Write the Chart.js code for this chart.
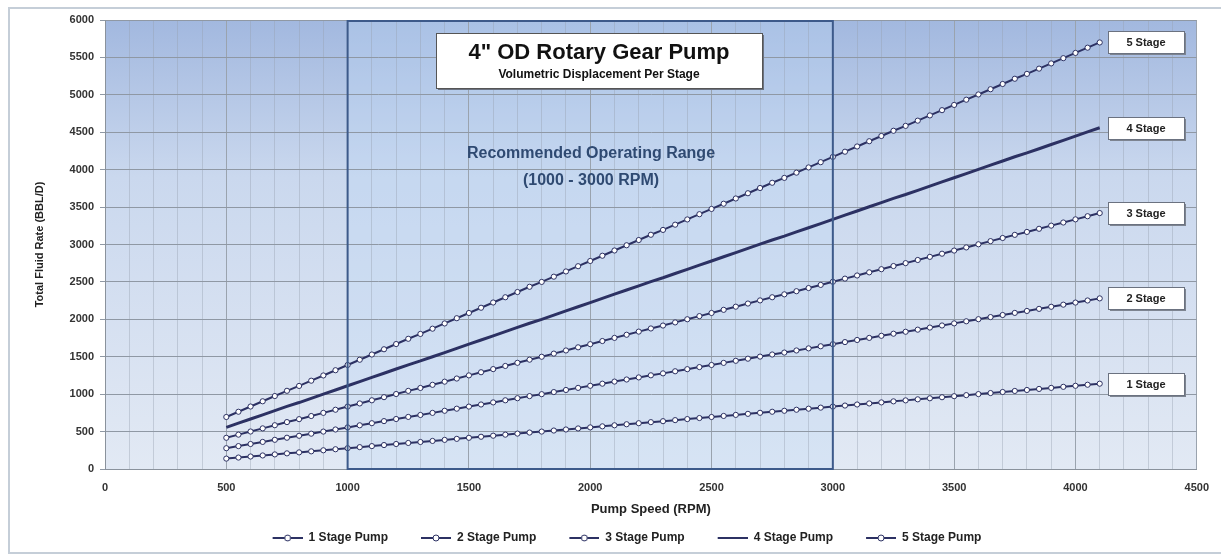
<!DOCTYPE html>
<html>
<head>
<meta charset="utf-8">
<script src="https://cdn.jsdelivr.net/npm/chart.js@4.4.1/dist/chart.umd.min.js"></script>
<style>
  html, body { margin: 0; padding: 0; background: #fff; }
  #wrap { position: relative; width: 1221px; height: 559px; }
</style>
</head>
<body>
<div id="wrap"><canvas id="pumpChart" width="1221" height="559"></canvas></div>
<script>
// pump speed in RPM, one point every 50 RPM
const rpm = [500, 550, 600, 650, 700, 750, 800, 850, 900, 950,
  1000, 1050, 1100, 1150, 1200, 1250, 1300, 1350, 1400, 1450,
  1500, 1550, 1600, 1650, 1700, 1750, 1800, 1850, 1900, 1950,
  2000, 2050, 2100, 2150, 2200, 2250, 2300, 2350, 2400, 2450,
  2500, 2550, 2600, 2650, 2700, 2750, 2800, 2850, 2900, 2950,
  3000, 3050, 3100, 3150, 3200, 3250, 3300, 3350, 3400, 3450,
  3500, 3550, 3600, 3650, 3700, 3750, 3800, 3850, 3900, 3950,
  4000, 4050, 4100];

// total fluid rate (BBL/D) for each stage count
const stage1 = [139, 153, 167, 181, 195, 209, 222, 236, 250, 264,
  278, 292, 306, 320, 334, 348, 361, 375, 389, 403,
  417, 431, 445, 459, 473, 487, 500, 514, 528, 542,
  556, 570, 584, 598, 612, 626, 639, 653, 667, 681,
  695, 709, 723, 737, 751, 765, 778, 792, 806, 820,
  834, 848, 862, 876, 890, 904, 917, 931, 945, 959,
  973, 987, 1001, 1015, 1029, 1043, 1056, 1070, 1084, 1098,
  1112, 1126, 1140];
const stage2 = [278, 306, 334, 362, 390, 418, 444, 472, 500, 528,
  556, 584, 612, 640, 668, 696, 722, 750, 778, 806,
  834, 862, 890, 918, 946, 974, 1000, 1028, 1056, 1084,
  1112, 1140, 1168, 1196, 1224, 1252, 1278, 1306, 1334, 1362,
  1390, 1418, 1446, 1474, 1502, 1530, 1556, 1584, 1612, 1640,
  1668, 1696, 1724, 1752, 1780, 1808, 1834, 1862, 1890, 1918,
  1946, 1974, 2002, 2030, 2058, 2086, 2112, 2140, 2168, 2196,
  2224, 2252, 2280];
const stage3 = [417, 459, 501, 543, 585, 627, 666, 708, 750, 792,
  834, 876, 918, 960, 1002, 1044, 1083, 1125, 1167, 1209,
  1251, 1293, 1335, 1377, 1419, 1461, 1500, 1542, 1584, 1626,
  1668, 1710, 1752, 1794, 1836, 1878, 1917, 1959, 2001, 2043,
  2085, 2127, 2169, 2211, 2253, 2295, 2334, 2376, 2418, 2460,
  2502, 2544, 2586, 2628, 2670, 2712, 2751, 2793, 2835, 2877,
  2919, 2961, 3003, 3045, 3087, 3129, 3168, 3210, 3252, 3294,
  3336, 3378, 3420];
const stage4 = [556, 612, 668, 724, 780, 836, 888, 944, 1000, 1056,
  1112, 1168, 1224, 1280, 1336, 1392, 1444, 1500, 1556, 1612,
  1668, 1724, 1780, 1836, 1892, 1948, 2000, 2056, 2112, 2168,
  2224, 2280, 2336, 2392, 2448, 2504, 2556, 2612, 2668, 2724,
  2780, 2836, 2892, 2948, 3004, 3060, 3112, 3168, 3224, 3280,
  3336, 3392, 3448, 3504, 3560, 3616, 3668, 3724, 3780, 3836,
  3892, 3948, 4004, 4060, 4116, 4172, 4224, 4280, 4336, 4392,
  4448, 4504, 4560];
const stage5 = [695, 765, 835, 905, 975, 1045, 1110, 1180, 1250, 1320,
  1390, 1460, 1530, 1600, 1670, 1740, 1805, 1875, 1945, 2015,
  2085, 2155, 2225, 2295, 2365, 2435, 2500, 2570, 2640, 2710,
  2780, 2850, 2920, 2990, 3060, 3130, 3195, 3265, 3335, 3405,
  3475, 3545, 3615, 3685, 3755, 3825, 3890, 3960, 4030, 4100,
  4170, 4240, 4310, 4380, 4450, 4520, 4585, 4655, 4725, 4795,
  4865, 4935, 5005, 5075, 5145, 5215, 5280, 5350, 5420, 5490,
  5560, 5630, 5700];

const seriesNames = ['1 Stage Pump', '2 Stage Pump', '3 Stage Pump', '4 Stage Pump', '5 Stage Pump'];
const endLabels = ['1 Stage', '2 Stage', '3 Stage', '4 Stage', '5 Stage'];
const rangeRpm = [1000, 3000];

const navy = '#2c3163';
const fontFamily = '"Liberation Sans", Arial, sans-serif';

function toPoints(vals) {
  return rpm.map((r, i) => ({ x: r, y: vals[i] }));
}

function makeSeries(name, vals, markers) {
  return {
    label: name,
    data: toPoints(vals),
    borderColor: navy,
    borderWidth: markers ? 2 : 3,
    pointRadius: markers ? 2.6 : 0,
    pointBorderWidth: 1,
    pointBackgroundColor: '#ffffff',
    pointBorderColor: navy,
    tension: 0,
    fill: false
  };
}

// legend pictures: blank space on the left, then line (with circle)
const iconW = 53;
function legendIcon(withMarker) {
  const c = document.createElement('canvas');
  c.width = iconW; c.height = 10;
  const g = c.getContext('2d');
  g.strokeStyle = navy;
  g.lineWidth = 2;
  g.beginPath(); g.moveTo(iconW - 30, 5); g.lineTo(iconW, 5); g.stroke();
  if (withMarker) {
    g.fillStyle = '#fff';
    g.lineWidth = 1;
    g.beginPath(); g.arc(iconW - 15, 5, 3, 0, Math.PI * 2); g.fill(); g.stroke();
  }
  return c;
}

// background, operating range box and text boxes
const decorPlugin = {
  id: 'decor',
  beforeDraw(chart) {
    const { ctx, chartArea: a, scales } = chart;
    ctx.save();
    ctx.fillStyle = '#fff';
    ctx.fillRect(0, 0, chart.width, chart.height);
    ctx.strokeStyle = '#c5ced8';
    ctx.lineWidth = 2;
    ctx.strokeRect(9, 8, chart.width + 10, 545);
    const grad = ctx.createLinearGradient(0, a.top, 0, a.bottom);
    grad.addColorStop(0, '#a2b8df');
    grad.addColorStop(0.35, '#cad8ee');
    grad.addColorStop(1, '#e2e9f4');
    ctx.fillStyle = grad;
    ctx.fillRect(a.left, a.top, a.right - a.left, a.bottom - a.top);
    const x1 = scales.x.getPixelForValue(rangeRpm[0]);
    const x2 = scales.x.getPixelForValue(rangeRpm[1]);
    ctx.fillStyle = 'rgba(190, 215, 245, 0.3)';
    ctx.fillRect(x1, a.top, x2 - x1, a.bottom - a.top);
    ctx.restore();
  },
  afterDatasetsDraw(chart) {
    const { ctx, chartArea: a, scales } = chart;
    const x1 = scales.x.getPixelForValue(rangeRpm[0]);
    const x2 = scales.x.getPixelForValue(rangeRpm[1]);
    ctx.save();
    ctx.strokeStyle = '#3d5a8a';
    ctx.lineWidth = 2;
    ctx.strokeRect(x1, a.top + 1, x2 - x1, a.bottom - a.top - 1);

    // title box
    const bx = 436, by = 33, bw = 326, bh = 55;
    ctx.fillStyle = '#6b7280';
    ctx.fillRect(bx + 2, by + 2, bw, bh);
    ctx.fillStyle = '#ffffff';
    ctx.fillRect(bx, by, bw, bh);
    ctx.strokeStyle = '#555';
    ctx.lineWidth = 1;
    ctx.strokeRect(bx + 0.5, by + 0.5, bw, bh);
    ctx.fillStyle = '#111';
    ctx.textAlign = 'center';
    ctx.textBaseline = 'middle';
    ctx.font = 'bold 22px ' + fontFamily;
    ctx.fillText('4" OD Rotary Gear Pump', bx + bw / 2, by + 20);
    ctx.font = 'bold 12px ' + fontFamily;
    ctx.fillText('Volumetric Displacement Per Stage', bx + bw / 2, by + 42);

    ctx.fillStyle = '#2f4a72';
    ctx.font = 'bold 16px ' + fontFamily;
    ctx.fillText('Recommended Operating Range', 591, 154);
    ctx.fillText('(1000 - 3000 RPM)', 591, 181);

    // end-of-line stage labels
    const ends = [stage1, stage2, stage3, stage4, stage5];
    ctx.font = 'bold 11px ' + fontFamily;
    ends.forEach((vals, i) => {
      const cy = scales.y.getPixelForValue(vals[vals.length - 1]);
      const lx = 1108, lw = 76, lh = 22;
      const ly = Math.round(cy - lh / 2);
      ctx.fillStyle = '#7d8490';
      ctx.fillRect(lx + 2, ly + 2, lw, lh);
      ctx.fillStyle = '#fff';
      ctx.fillRect(lx, ly, lw, lh);
      ctx.strokeStyle = '#6b7280';
      ctx.strokeRect(lx + 0.5, ly + 0.5, lw, lh);
      ctx.fillStyle = '#222';
      ctx.fillText(endLabels[i], lx + lw / 2, ly + lh / 2 + 1);
    });
    ctx.restore();
  }
};

const tickFont = { family: fontFamily, size: 11, weight: 'bold' };

new Chart(document.getElementById('pumpChart').getContext('2d'), {
  type: 'line',
  data: {
    datasets: [
      makeSeries(seriesNames[0], stage1, true),
      makeSeries(seriesNames[1], stage2, true),
      makeSeries(seriesNames[2], stage3, true),
      makeSeries(seriesNames[3], stage4, false),
      makeSeries(seriesNames[4], stage5, true)
    ]
  },
  options: {
    responsive: false,
    animation: false,
    layout: { padding: { left: 33, right: 23, top: 20, bottom: 5 } },
    scales: {
      x: {
        type: 'linear',
        min: 0,
        max: 4500,
        afterFit(s) { s.height = 53; },
        ticks: {
          stepSize: 100,
          color: '#333',
          font: tickFont,
          padding: 12,
          maxRotation: 0,
          autoSkip: false,
          callback: v => (v % 500 === 0 ? String(v) : '')
        },
        grid: {
          color: ctx => (ctx.tick && ctx.tick.value % 500 === 0 ? '#9aa3ae' : 'rgba(150,160,175,0.4)'),
          lineWidth: 1,
          drawTicks: false
        },
        border: { color: '#8a929c', width: 1 },
        title: {
          display: true,
          text: 'Pump Speed (RPM)',
          color: '#222',
          font: { family: fontFamily, size: 13, weight: 'bold' },
          padding: { top: 0, bottom: 5 }
        }
      },
      y: {
        min: 0,
        max: 6000,
        afterFit(s) { s.width = 72; },
        ticks: { stepSize: 500, color: '#333', font: tickFont, padding: 6, callback: v => String(v) },
        grid: { color: '#8f98a4', lineWidth: 1, tickLength: 5 },
        border: { color: '#8a929c', width: 1 },
        title: {
          display: true,
          text: 'Total Fluid Rate (BBL/D)',
          color: '#222',
          font: { family: fontFamily, size: 11, weight: 'bold' },
          padding: { top: 0, bottom: 6 }
        }
      }
    },
    plugins: {
      legend: {
        position: 'bottom',
        labels: {
          color: '#222',
          font: { family: fontFamily, size: 12, weight: 'bold' },
          usePointStyle: true,
          pointStyleWidth: iconW,
          boxHeight: 10,
          padding: 10,
          generateLabels(chart) {
            return chart.data.datasets.map((d, i) => ({
              text: d.label,
              fontColor: '#222',
              pointStyle: legendIcon(d.pointRadius > 0),
              datasetIndex: i,
              hidden: false,
              lineWidth: 0
            }));
          }
        }
      },
      tooltip: { enabled: false }
    }
  },
  plugins: [decorPlugin]
});
</script>
</body>
</html>
